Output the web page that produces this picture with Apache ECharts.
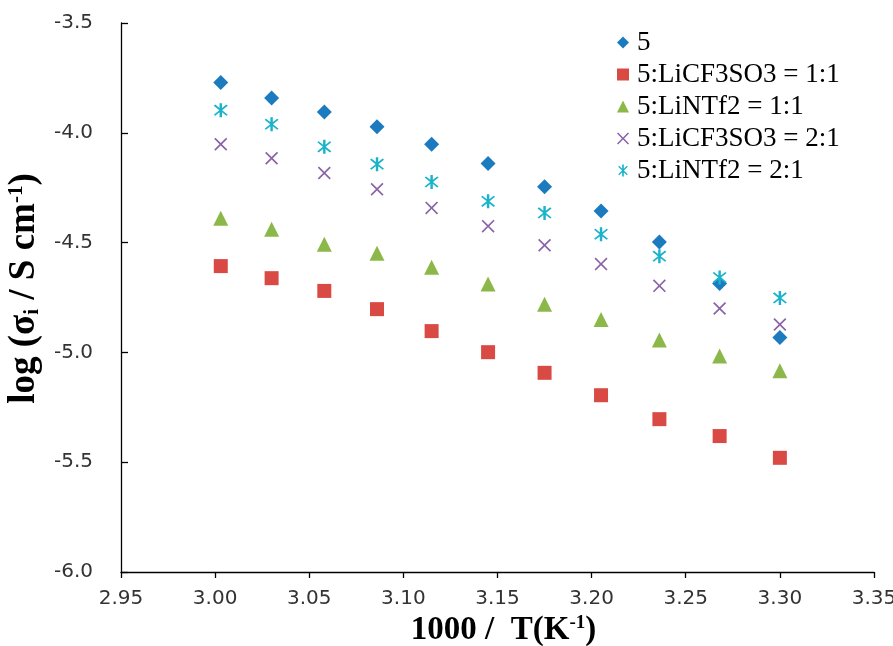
<!DOCTYPE html>
<html>
<head>
<meta charset="utf-8">
<script src="https://cdn.jsdelivr.net/npm/echarts@6/dist/echarts.min.js"></script>
<style>
  html, body { margin: 0; padding: 0; background: #fff; }
  #chart { width: 893px; height: 646px; }
</style>
</head>
<body>
<div id="chart"></div>
<script>
// 1000/T for 333 K down to 303 K
const invT = [3.003, 3.030, 3.058, 3.086, 3.115, 3.145, 3.175, 3.205, 3.236, 3.268, 3.300]

const seriesNames = [
  '5',
  '5:LiCF3SO3 = 1:1',
  '5:LiNTf2 = 1:1',
  '5:LiCF3SO3 = 2:1',
  '5:LiNTf2 = 2:1'
]

const logSigma5 = [-3.771, -3.841, -3.905, -3.973, -4.052, -4.140, -4.246, -4.356, -4.497, -4.686, -4.932]
const logSigmaCF3_11 = [-4.607, -4.662, -4.720, -4.803, -4.903, -4.999, -5.093, -5.195, -5.304, -5.381, -5.480]
const logSigmaNTf2_11 = [-4.389, -4.439, -4.507, -4.548, -4.612, -4.689, -4.781, -4.850, -4.944, -5.016, -5.084]
const logSigmaCF3_21 = [-4.052, -4.116, -4.183, -4.257, -4.342, -4.425, -4.512, -4.598, -4.697, -4.800, -4.873]
const logSigmaNTf2_21 = [-3.897, -3.961, -4.064, -4.143, -4.224, -4.312, -4.365, -4.462, -4.562, -4.659, -4.752]

const xTicks = { min: 2.95, max: 3.35, step: 0.05 }
const yTicks = { min: -6.0, max: -3.5, step: 0.5 }

// thin cross and asterisk markers (filled outlines)
const crossPath = 'path://M0,0.9 L0.9,0 L5,4.1 L9.1,0 L10,0.9 L5.9,5 L10,9.1 L9.1,10 L5,5.9 L0.9,10 L0,9.1 L4.1,5 Z'
const starPath = 'path://M4.3,0 L5.7,0 L5.7,10 L4.3,10 Z M1,1.8 L1.8,1 L5,4.2 L8.2,1 L9,1.8 L5.8,5 L9,8.2 L8.2,9 L5,5.8 L1.8,9 L1,8.2 L4.2,5 Z'

const pair = ys => invT.map((x, i) => [x, ys[i]])

const chart = echarts.init(document.getElementById('chart'), null, { renderer: 'canvas' })

const serif = '"Liberation Serif", "Times New Roman", serif'
const sans = '"DejaVu Sans", Verdana, sans-serif'

const option = {
  backgroundColor: '#fff',
  animation: false,
  grid: { left: 121, right: 19, top: 23, bottom: 74, containLabel: false, outerBoundsMode: 'none' },
  legend: {
    orient: 'vertical',
    left: 612,
    top: 24,
    itemWidth: 12,
    itemHeight: 12,
    itemGap: 5,
    textStyle: { fontFamily: serif, fontSize: 27, color: '#000', padding: [0, 0, 0, 3] },
    data: seriesNames
  },
  xAxis: {
    type: 'value',
    min: xTicks.min,
    max: xTicks.max,
    interval: xTicks.step,
    name: '1000 /  T(K{sup|-1})',
    nameLocation: 'middle',
    nameGap: 41,
    nameTextStyle: {
      fontFamily: serif,
      fontWeight: 'bold',
      fontSize: 33,
      color: '#000',
      padding: [0, 0, 0, 12],
      rich: {
        sup: { fontFamily: serif, fontWeight: 'bold', fontSize: 19, verticalAlign: 'top', color: '#000' }
      }
    },
    axisLine: { lineStyle: { color: '#000', width: 1.3 } },
    axisTick: { inside: false, length: 6, lineStyle: { color: '#000', width: 1.3 } },
    axisLabel: {
      fontFamily: sans,
      fontSize: 20,
      color: '#333',
      margin: 17,
      formatter: v => v.toFixed(2)
    },
    splitLine: { show: false }
  },
  yAxis: {
    type: 'value',
    min: yTicks.min,
    max: yTicks.max,
    interval: yTicks.step,
    name: 'log (σ{sub|i} / S cm{sup|-1})',
    nameLocation: 'middle',
    nameGap: 68,
    nameTextStyle: {
      fontFamily: serif,
      fontWeight: 'bold',
      fontSize: 37,
      color: '#000',
      padding: [0, 0, 0, 18],
      rich: {
        sup: { fontFamily: serif, fontWeight: 'bold', fontSize: 21, verticalAlign: 'top', color: '#000' },
        sub: { fontFamily: serif, fontWeight: 'bold', fontSize: 21, verticalAlign: 'bottom', color: '#000' }
      }
    },
    axisLine: { show: true, lineStyle: { color: '#000', width: 1.3 } },
    axisTick: { show: true, inside: true, length: 7, lineStyle: { color: '#000', width: 1.3 } },
    axisLabel: {
      fontFamily: sans,
      fontSize: 20,
      color: '#333',
      margin: 28,
      formatter: v => v.toFixed(1)
    },
    splitLine: { show: false }
  },
  series: [
    {
      name: seriesNames[0],
      type: 'scatter',
      symbol: 'diamond',
      symbolSize: 15,
      itemStyle: { color: '#1c7bbf', opacity: 1 },
      data: pair(logSigma5)
    },
    {
      name: seriesNames[1],
      type: 'scatter',
      symbol: 'rect',
      symbolSize: 14,
      itemStyle: { color: '#da4a44', opacity: 1 },
      data: pair(logSigmaCF3_11)
    },
    {
      name: seriesNames[2],
      type: 'scatter',
      symbol: 'triangle',
      symbolSize: 15,
      itemStyle: { color: '#8cb84a', opacity: 1 },
      data: pair(logSigmaNTf2_11)
    },
    {
      name: seriesNames[3],
      type: 'scatter',
      symbol: crossPath,
      symbolSize: 13,
      itemStyle: { color: '#8a62a8', opacity: 1 },
      data: pair(logSigmaCF3_21)
    },
    {
      name: seriesNames[4],
      type: 'scatter',
      symbol: starPath,
      symbolSize: 14,
      itemStyle: { color: '#1bb3cb', opacity: 1 },
      data: pair(logSigmaNTf2_21)
    }
  ]
}

chart.setOption(option)
</script>
</body>
</html>
